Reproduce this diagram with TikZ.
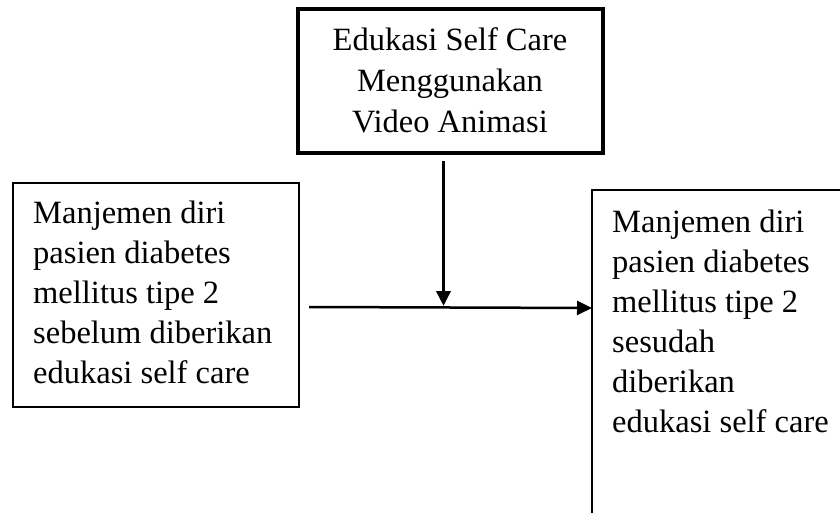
\documentclass[tikz,border=0pt]{standalone}
\usepackage{fontspec}
\setmainfont{Liberation Serif}
\usetikzlibrary{arrows.meta}
\begin{document}
\begin{tikzpicture}[x=1pt,y=-1pt,
  txt/.style={inner sep=0pt,align=left,font=\fontsize{32.5}{40}\selectfont},
  thickbox/.style={draw=black,line width=3.5pt},
  thinbox/.style={draw=black,line width=1.2pt},
  conn/.style={draw=black,-{Triangle[length=15pt,width=14pt]}}]
\useasboundingbox (0,0) rectangle (840,513);
% top box
\draw[thickbox] (298,9) rectangle (603,153);
\node[txt,align=center,anchor=north,font=\fontsize{32.5}{41}\selectfont] (top) at (450,27.5)
  {Edukasi Self Care\\Menggunakan\\Video Animasi};
% left box
\draw[thinbox] (13,183) rectangle (299,407);
\node[txt,anchor=north west] (left) at (33,200.5)
  {Manjemen diri\\pasien diabetes\\mellitus tipe 2\\sebelum diberikan\\edukasi self care};
% right box (open at right and bottom)
\draw[thinbox] (840,190) -- (592,190) -- (592,513);
\node[txt,anchor=north west] (right) at (612,209.5)
  {Manjemen diri\\pasien diabetes\\mellitus tipe 2\\sesudah\\diberikan\\edukasi self care};
% connectors
\coordinate (vs) at (443.5,161);
\coordinate (ve) at (443.5,306);
\coordinate (hs) at (309,307);
\coordinate (he) at (592,308);
\draw[conn,line width=3.5pt] (vs) -- (ve);
\draw[conn,line width=2.5pt] (hs) -- (he);
\end{tikzpicture}
\end{document}
